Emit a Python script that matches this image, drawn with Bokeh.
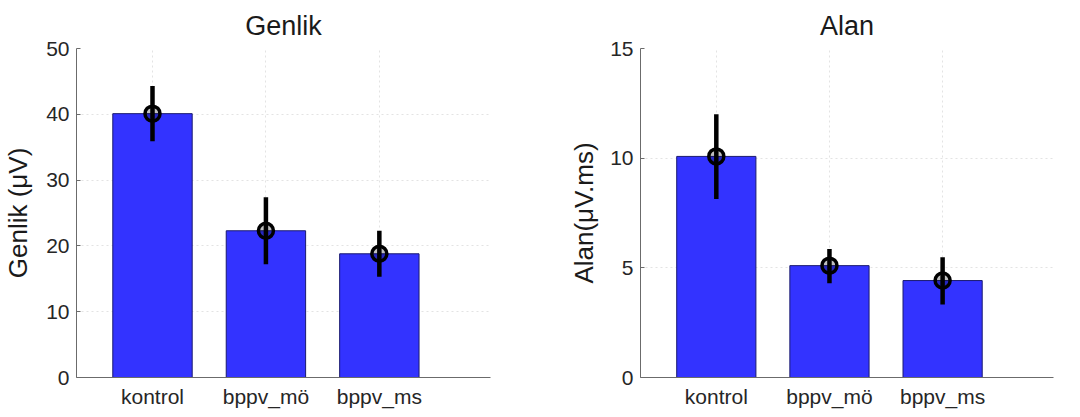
from bokeh.plotting import figure
from bokeh.layouts import row
from bokeh.models import Range1d, FixedTicker
from bokeh.embed import file_html
from bokeh.resources import INLINE

categories = ["kontrol", "bppv_mö", "bppv_ms"]
xpos = [1, 2, 3]

genlik_mean = [40.1, 22.3, 18.8]
genlik_upper = [44.3, 27.4, 22.3]
genlik_lower = [35.9, 17.2, 15.3]

alan_mean = [10.08, 5.1, 4.42]
alan_upper = [12.0, 5.86, 5.48]
alan_lower = [8.14, 4.3, 3.33]

genlik_ticks = [0, 10, 20, 30, 40, 50]
alan_ticks = [0, 5, 10, 15]

BAR = "#3333ff"
FONT = "Liberation Sans"


def panel(title, ylabel, mean, upper, lower, ymax, yticks, width, left_border, frame_w, label_standoff):
    p = figure(width=width, height=413, output_backend="svg", toolbar_location=None,
               x_range=Range1d(0.33, 3.98), y_range=Range1d(0, ymax),
               min_border_left=left_border, min_border_right=width - left_border - frame_w,
               min_border_top=47, min_border_bottom=36, title=title)
    p.title.align = "center"
    p.title.text_font = FONT
    p.title.text_font_size = "27px"
    p.title.text_font_style = "normal"
    p.title.text_color = "#1a1a1a"
    p.title.standoff = 16
    p.outline_line_color = None
    p.background_fill_color = "white"

    p.vbar(x=xpos, top=mean, bottom=0, width=0.7, fill_color=BAR,
           line_color="#1a1a70", line_width=1)
    p.segment(x0=xpos, y0=lower, x1=xpos, y1=upper, line_color="black", line_width=4.5)
    p.scatter(x=xpos, y=mean, size=15, marker="circle", fill_color="black",
              fill_alpha=0.25, line_color="black", line_width=3.5)

    p.xaxis.ticker = FixedTicker(ticks=xpos)
    p.xaxis.major_label_overrides = {x: c for x, c in zip(xpos, categories)}
    p.yaxis.ticker = FixedTicker(ticks=yticks)
    p.yaxis.axis_label = ylabel
    for ax in (p.xaxis, p.yaxis):
        ax.axis_line_color = "#6b6b6b"
        ax.major_tick_line_color = "#6b6b6b"
        ax.major_tick_in = 4
        ax.major_tick_out = 0
        ax.minor_tick_line_color = None
        ax.major_label_text_font = FONT
        ax.major_label_text_color = "#262626"
    p.xaxis.major_tick_line_color = None
    p.xaxis.major_label_text_font_size = "21px"
    p.yaxis.major_label_text_font_size = "21px"
    p.yaxis.major_label_standoff = 7
    p.yaxis.axis_label_text_font = FONT
    p.yaxis.axis_label_text_font_size = "26px"
    p.yaxis.axis_label_text_font_style = "normal"
    p.yaxis.axis_label_text_color = "#1a1a1a"
    p.yaxis.axis_label_standoff = label_standoff
    p.xaxis.major_label_standoff = 7

    p.grid.grid_line_color = "#e3e3e3"
    p.grid.grid_line_dash = "2 3"
    p.grid.grid_line_width = 1
    p.xgrid.ticker = FixedTicker(ticks=xpos)
    p.ygrid.ticker = FixedTicker(ticks=yticks)
    return p


p1 = panel("Genlik", "Genlik (μV)", genlik_mean, genlik_upper, genlik_lower,
           50, genlik_ticks, 540, 75, 415, 10)
p2 = panel("Alan", "Alan(μV.ms)", alan_mean, alan_upper, alan_lower,
           15, alan_ticks, 532, 100, 413, 8)

layout = row(p1, p2)
open("out.html", "w").write(file_html(layout, INLINE))
